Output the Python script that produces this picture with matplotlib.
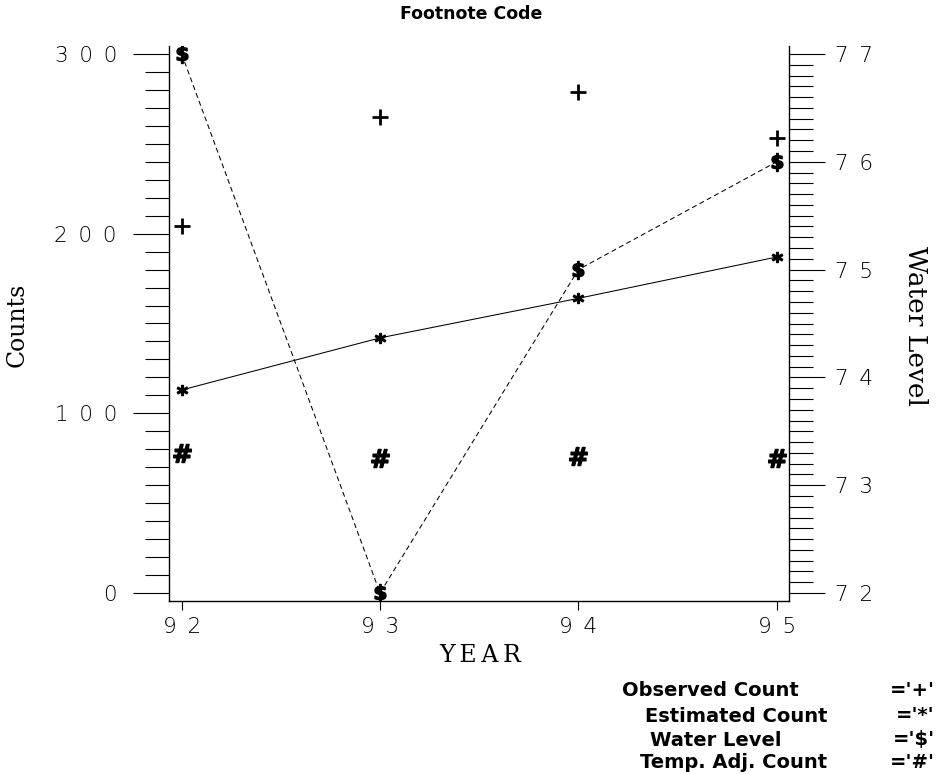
import matplotlib
matplotlib.use("Agg")
import matplotlib.pyplot as plt
from matplotlib.ticker import FuncFormatter, FixedLocator

# ---- data ----
years = [92, 93, 94, 95]
observed = [204, 265, 279, 253]
estimated = [113, 142, 164, 187]
water_level = [77, 72, 75, 76]
temp_adj = [78, 75, 76, 75]

left_ticks = [0, 100, 200, 300]
right_ticks = [72, 73, 74, 75, 76, 77]

legend_names = ["Observed Count", "Estimated Count", "Water Level", "Temp. Adj. Count"]
legend_codes = ["='+'", "='*'", "='$'", "='#'"]

title = "Footnote Code"
x_label = "YEAR"
y_label = "Counts"
y2_label = "Water Level"

plt.rcParams['lines.scale_dashes'] = False
plt.rcParams['mathtext.fontset'] = 'dejavusans'

W, H = 942, 774
fig = plt.figure(figsize=(W / 100, H / 100), dpi=100)
ax = fig.add_axes([169 / W, 1 - 601 / H, (789 - 169) / W, (601 - 46) / H])
ax2 = ax.twinx()

# limits
ax.set_xlim(91.936, 95.062)
ax.set_ylim(-4.453, 304.453)
ax2.set_ylim(71.926, 77.074)

# spines
for s in ['top', 'right']:
    ax.spines[s].set_visible(False)
for s in ['top', 'left', 'bottom']:
    ax2.spines[s].set_visible(False)
for a in (ax, ax2):
    for s in a.spines.values():
        s.set_linewidth(1.0)

def spaced(v, pos=None):
    return "\u2002".join(str(int(round(v))))

ax.set_xticks(years)
ax.xaxis.set_major_formatter(FuncFormatter(spaced))
ax.set_yticks(left_ticks)
ax.yaxis.set_major_formatter(FuncFormatter(spaced))
ax2.set_yticks(right_ticks)
ax2.yaxis.set_major_formatter(FuncFormatter(spaced))
ax.yaxis.set_minor_locator(FixedLocator(
    [v for v in range(0, 301, 10) if v % 100 != 0]))
ax2.yaxis.set_minor_locator(FixedLocator(
    [72 + i / 10 for i in range(1, 50) if i % 10 != 0]))

ax.tick_params(axis='x', which='major', direction='out', length=6.5, width=0.8, pad=5)
ax.tick_params(axis='y', which='major', direction='out', length=26, width=0.8, pad=11.5)
ax.tick_params(axis='y', which='minor', direction='out', length=17.3, width=0.8)
ax2.tick_params(axis='y', which='major', direction='out', length=26, width=0.8, pad=7)
ax2.tick_params(axis='y', which='minor', direction='out', length=17.3, width=0.8)
for lab in ax.get_xticklabels() + ax.get_yticklabels() + ax2.get_yticklabels():
    lab.set_fontfamily('DejaVu Sans')
    lab.set_fontweight('light')
    lab.set_fontsize(15.5)

# series
ax.plot(years, observed, linestyle='none', marker='+', ms=12, mew=2.0, color='black')
ax.plot(years, estimated, linestyle='-', lw=0.75, color='black',
        marker=r'$\mathbf{*}$', ms=7.5)
ax2.plot(years, water_level, linestyle=(0, (3.6, 2.4)), lw=0.75, color='black',
         marker=r'$\mathbf{\$}$', ms=13)
ax.plot(years, temp_adj, linestyle='none', marker=r'$\mathbf{\#}$', ms=13, color='black')

# labels
fig.text(480 / W, 1 - 656 / H, "\u2009".join(x_label), family='DejaVu Serif', size=17,
         ha='center', va='center')
fig.text(17 / W, 1 - 325 / H, y_label, family='DejaVu Serif', size=17,
         rotation=90, ha='center', va='center')
fig.text(916 / W, 1 - 326 / H, y2_label, family='DejaVu Serif', size=19,
         rotation=-90, ha='center', va='center')
fig.text(0.5, 1 - 14 / H, title, family='DejaVu Sans', weight='bold', size=12.5,
         ha='center', va='center')

# footnote legend
name_x = [622, 645, 650, 640]
code_right = 935
line_y = [690, 716, 740, 763]
for name, code, nx, ly in zip(legend_names, legend_codes, name_x, line_y):
    fig.text(nx / W, 1 - ly / H, name, family='DejaVu Sans', weight='bold',
             size=14, ha='left', va='center')
    fig.text(code_right / W, 1 - ly / H, code, family='DejaVu Sans', weight='bold',
             size=14, ha='right', va='center')

fig.savefig("out.png", dpi=100)
